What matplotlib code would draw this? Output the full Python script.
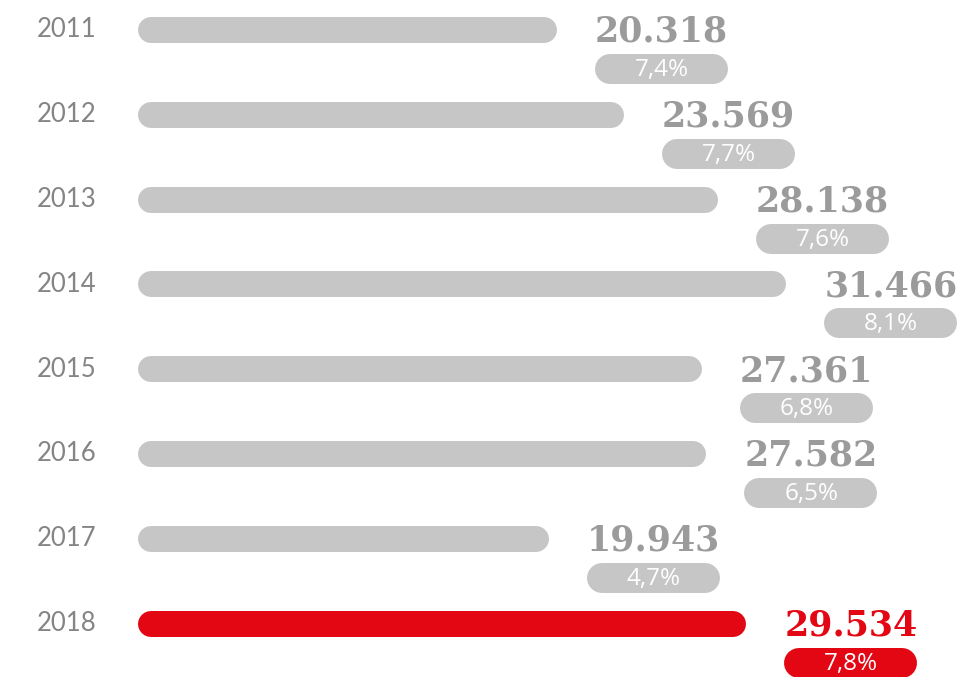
import matplotlib.pyplot as plt

years = ["2011", "2012", "2013", "2014", "2015", "2016", "2017", "2018"]
values = [20318, 23569, 28138, 31466, 27361, 27582, 19943, 29534]
shares = ["7,4%", "7,7%", "7,6%", "8,1%", "6,8%", "6,5%", "4,7%", "7,8%"]
highlight = "2018"

GREY_BAR = "#c6c6c6"
GREY_TXT = "#9b9b9b"
RED = "#e30613"

W, H = 960, 677
px_per_unit = 0.0206      # horizontal pixels per unit of value
row_px = 84.8             # vertical pixels between rows
top_px = 30


def px(p):
    return p / px_per_unit


def py(p):
    return p / row_px


def pt(p):
    return p * 72 / 100


fig = plt.figure(figsize=(W / 100, H / 100), dpi=100)
ax = fig.add_axes([0, 0, 1, 1])
ax.axis("off")
x0 = -138 / px_per_unit
ax.set_xlim(x0, x0 + W / px_per_unit)
ax.set_ylim((H - top_px) / row_px, -top_px / row_px)

for i, (yr, v, s) in enumerate(zip(years, values, shares)):
    bar_c = RED if yr == highlight else GREY_BAR
    txt_c = RED if yr == highlight else GREY_TXT
    pill_c = RED if yr == highlight else GREY_BAR

    # rounded bar
    ax.plot([px(13), v - px(13)], [i, i], lw=pt(26), color=bar_c,
            solid_capstyle="round")
    ax.text(px(-42), i, yr, ha="right", va="center", fontsize=18.5,
            family="Lato", color="#858585")

    # value label and share pill
    cx = v + px(38 + 67)
    ax.text(cx, i + py(2), f"{v:,}".replace(",", "."), ha="center",
            va="center", family="DejaVu Serif", weight="bold", fontsize=25,
            color=txt_c)
    yp = i + py(39)
    ax.plot([v + px(38 + 15), v + px(38 + 133 - 15)], [yp, yp], lw=pt(30),
            color=pill_c, solid_capstyle="round")
    ax.text(cx, yp + py(1), s, ha="center", va="center", family="Open Sans",
            fontsize=17.5, color="white")

fig.savefig("out.png", dpi=100)
